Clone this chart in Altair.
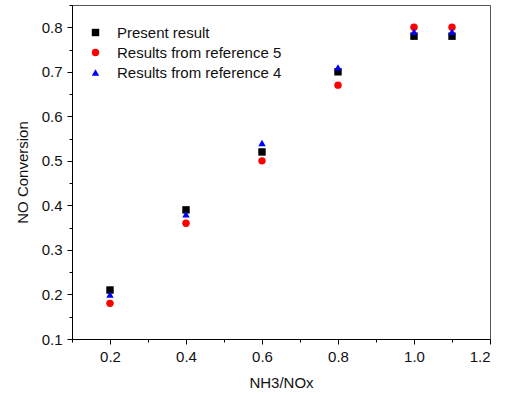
import altair as alt
import pandas as pd

# ---- data ----
ratio = [0.2, 0.4, 0.6, 0.8, 1.0, 1.1]
present = [0.21, 0.39, 0.52, 0.70, 0.78, 0.78]
ref5 = [0.18, 0.36, 0.50, 0.67, 0.80, 0.80]
ref4 = [0.20, 0.38, 0.54, 0.71, 0.79, 0.79]
series = ["Present result", "Results from reference 5", "Results from reference 4"]
shapes = ["square", "circle", "triangle-up"]
colors = ["#000000", "#ff0000", "#0000ff"]
sizes = [55, 55, 85]

x_major = [0.2, 0.4, 0.6, 0.8, 1.0, 1.2]
x_minor = [0.1, 0.3, 0.5, 0.7, 0.9, 1.1]
y_major = [0.1, 0.2, 0.3, 0.4, 0.5, 0.6, 0.7, 0.8]
y_minor = [0.15, 0.25, 0.35, 0.45, 0.55, 0.65, 0.75, 0.85]

rows = []
for name, vals in zip(series, [present, ref5, ref4]):
    for xv, yv in zip(ratio, vals):
        rows.append({"ratio": xv, "conv": yv, "series": name})
df = pd.DataFrame(rows)

FONT = "Liberation Sans"
xscale = alt.Scale(domain=[0.1, 1.2], nice=False, zero=False)
yscale = alt.Scale(domain=[0.1, 0.85], nice=False, zero=False)
leg = alt.Legend(title=None, orient="none", legendX=16, legendY=20)

points = alt.Chart(df).mark_point(filled=True, opacity=1).encode(
    x=alt.X("ratio:Q", scale=xscale,
            axis=alt.Axis(title="NH3/NOx", values=x_major, format=".1f",
                          tickSize=5, labelPadding=5, titlePadding=11, orient="bottom")),
    y=alt.Y("conv:Q", scale=yscale,
            axis=alt.Axis(title="NO Conversion", values=y_major, format=".1f",
                          tickSize=5, labelPadding=5, titlePadding=11, orient="left")),
    shape=alt.Shape("series:N", scale=alt.Scale(domain=series, range=shapes), legend=leg),
    color=alt.Color("series:N", scale=alt.Scale(domain=series, range=colors), legend=leg),
    size=alt.Size("series:N", scale=alt.Scale(domain=series, range=sizes), legend=leg),
)

minor = alt.Chart(df).mark_point(opacity=0).encode(
    x=alt.X("ratio:Q", scale=xscale,
            axis=alt.Axis(title=None, values=x_minor, labels=False, domain=False,
                          tickSize=3, orient="bottom")),
    y=alt.Y("conv:Q", scale=yscale,
            axis=alt.Axis(title=None, values=y_minor, labels=False, domain=False,
                          tickSize=3, orient="left")),
)

chart = alt.layer(minor, points).resolve_axis(x="independent", y="independent").properties(
    width=418, height=334,
    padding={"left": 72, "top": 5, "right": 15, "bottom": 56},
    autosize=alt.AutoSizeParams(type="none"),
).configure_view(
    stroke="#555555", strokeWidth=1
).configure_axis(
    grid=False, labelFont=FONT, titleFont=FONT, labelFontSize=15, titleFontSize=15,
    titleFontWeight="normal", labelColor="#111111", titleColor="#111111",
    domainColor="#000000", tickColor="#000000", domainWidth=1, tickWidth=1,
).configure_legend(
    labelFont=FONT, labelFontSize=15, labelColor="#111111", labelLimit=400,
    rowPadding=4, labelOffset=14, symbolStrokeWidth=0,
)

chart.save("out.html", embed_options={"renderer": "svg", "actions": False})
